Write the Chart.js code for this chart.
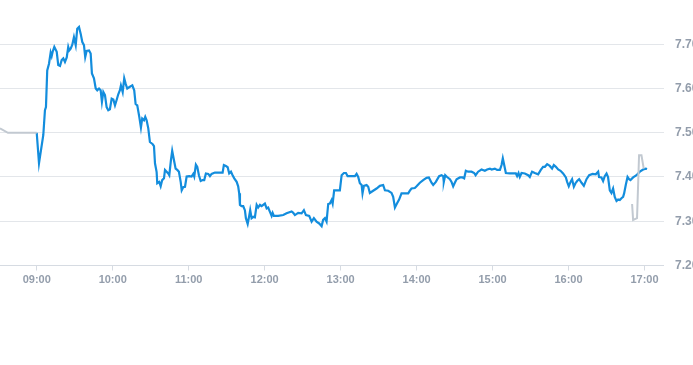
<!DOCTYPE html>
<html>
<head>
<meta charset="utf-8">
<script src="https://cdn.jsdelivr.net/npm/chart.js@4/dist/chart.umd.min.js"></script>
<style>
  html, body { margin: 0; padding: 0; background: #ffffff; overflow: hidden; width: 693px; height: 365px; }
  #wrap { position: relative; width: 693px; height: 365px; overflow: hidden; }
  canvas { position: absolute; left: 0; top: 0; }
</style>
</head>
<body>
<div id="wrap"><canvas id="c" width="720" height="365"></canvas></div>
<script>
// Time in minutes since midnight
const priceTimes = [
540.0,541.8,545.2,546.5,547.3,548.3,549.7,551.0,551.8,552.6,553.9,555.8,557.0,558.4,559.7,561.0,562.3,563.7,564.9,565.7,
566.8,568.1,569.4,570.8,572.0,573.4,574.7,576.0,577.3,578.3,579.4,581.3,582.6,583.6,585.2,586.6,587.8,589.2,590.5,591.5,
592.6,593.9,595.2,596.5,597.8,599.2,600.5,601.8,603.1,604.4,605.7,606.5,607.9,609.1,610.2,611.5,613.6,615.5,617.0,618.1,
619.4,621.0,622.3,623.3,624.7,625.7,626.8,628.1,629.4,631.6,632.6,633.4,634.7,635.2,636.8,637.9,639.1,640.5,641.3,642.6,
643.9,644.7,646.0,647.0,648.4,649.7,651.0,652.3,653.7,654.5,655.7,657.1,658.4,660.5,662.3,663.6,664.4,665.7,666.8,668.1,
669.5,671.0,672.3,673.6,675.5,676.8,678.1,680.7,683.3,686.8,687.8,689.4,690.8,692.0,693.4,694.7,696.0,697.9,699.1,699.9,
700.5,701.8,703.1,704.4,705.2,706.6,707.8,708.6,709.7,711.0,712.3,713.7,714.9,716.3,717.6,720.2,721.6,722.8,724.2,725.5,
726.3,727.3,730.7,734.7,737.3,741.3,742.6,743.9,746.5,749.2,751.0,752.6,755.2,757.1,758.9,761.0,763.1,765.0,766.2,767.6,
768.9,770.2,771.5,772.9,773.7,774.9,778.1,779.4,780.8,782.6,784.2,785.5,787.9,791.3,792.6,793.9,795.2,796.6,797.3,798.4,
800.5,801.8,803.1,805.7,808.4,811.0,813.6,815.0,817.6,820.2,821.5,822.9,824.7,826.2,828.1,830.7,833.4,834.7,836.0,838.6,
840.0,842.6,845.2,847.9,849.7,851.8,853.1,855.2,857.8,859.7,861.0,861.5,862.6,864.1,866.3,867.6,868.9,870.2,871.6,874.2,
876.3,877.6,878.9,880.7,883.4,885.5,886.6,888.6,891.3,893.9,895.7,897.9,899.2,901.8,903.6,905.8,907.1,908.1,909.2,910.5,
913.6,916.2,918.4,919.4,920.5,921.5,922.9,925.5,928.1,929.4,931.2,933.4,936.0,938.1,939.9,941.3,943.1,945.2,947.0,948.4,
950.0,951.8,953.7,955.7,957.9,958.9,960.2,961.6,962.8,964.2,965.5,966.8,968.4,970.3,972.1,974.2,976.3,979.0,981.5,983.4,
984.1,986.0,987.3,988.6,990.0,991.2,992.6,993.9,995.2,996.5,997.9,999.2,1000.5,1001.8,1003.1,1003.9,1005.2,1006.6,1007.8,1008.9,
1011.0,1013.7,1016.3,1018.9,1021.0,1022.0
];
const priceValues = [
7.500,7.431,7.495,7.551,7.558,7.641,7.656,7.681,7.673,7.683,7.694,7.683,7.653,7.651,7.664,7.668,7.660,7.670,7.694,7.686,
7.690,7.699,7.716,7.698,7.735,7.739,7.724,7.705,7.698,7.671,7.685,7.686,7.679,7.634,7.623,7.600,7.596,7.600,7.596,7.570,
7.592,7.585,7.558,7.551,7.553,7.577,7.575,7.562,7.574,7.587,7.596,7.607,7.592,7.623,7.611,7.600,7.604,7.607,7.596,7.565,
7.562,7.536,7.512,7.532,7.528,7.536,7.528,7.510,7.479,7.474,7.470,7.431,7.411,7.386,7.389,7.379,7.393,7.397,7.416,7.412,
7.408,7.404,7.438,7.459,7.438,7.419,7.416,7.412,7.389,7.370,7.377,7.378,7.401,7.402,7.401,7.407,7.401,7.428,7.423,7.404,
7.391,7.393,7.393,7.408,7.407,7.402,7.407,7.410,7.410,7.410,7.427,7.425,7.422,7.408,7.412,7.404,7.397,7.389,7.379,7.363,
7.337,7.334,7.334,7.325,7.307,7.294,7.312,7.325,7.307,7.310,7.309,7.337,7.331,7.337,7.334,7.340,7.329,7.331,7.321,7.312,
7.319,7.312,7.312,7.314,7.318,7.322,7.319,7.314,7.319,7.318,7.325,7.314,7.312,7.299,7.307,7.299,7.295,7.289,7.303,7.307,
7.299,7.339,7.340,7.348,7.340,7.370,7.370,7.370,7.404,7.409,7.409,7.402,7.402,7.402,7.407,7.400,7.386,7.382,7.363,7.380,
7.382,7.378,7.364,7.369,7.374,7.380,7.382,7.370,7.369,7.364,7.355,7.331,7.341,7.349,7.363,7.363,7.363,7.369,7.374,7.375,
7.379,7.387,7.393,7.398,7.399,7.387,7.382,7.389,7.402,7.404,7.402,7.389,7.404,7.400,7.395,7.389,7.379,7.387,7.395,7.399,
7.399,7.397,7.414,7.412,7.412,7.409,7.404,7.412,7.417,7.414,7.417,7.419,7.417,7.419,7.416,7.416,7.427,7.442,7.427,7.409,
7.408,7.408,7.408,7.402,7.409,7.400,7.409,7.408,7.404,7.400,7.412,7.409,7.406,7.416,7.423,7.423,7.429,7.425,7.419,7.427,
7.423,7.417,7.414,7.408,7.399,7.389,7.379,7.389,7.395,7.378,7.386,7.391,7.395,7.387,7.380,7.395,7.404,7.407,7.406,7.412,
7.400,7.399,7.391,7.402,7.408,7.400,7.370,7.364,7.374,7.355,7.346,7.349,7.348,7.352,7.355,7.363,7.382,7.400,7.395,7.393,
7.399,7.404,7.412,7.417,7.419,7.418
];
// Pre/after-market series (null = gap)
const extTimes  = [511.0, 517.3, 540.0, 760.0, 1010.2, 1011.0, 1014.1, 1015.7, 1017.6, 1019.4];
const extValues = [7.510, 7.500, 7.500, null, 7.339, 7.303, 7.307, 7.449, 7.449, 7.419];
const xMin = 511, xMax = 1035;
const yMin = 7.2, yMax = 7.8;
const hourTicks = ['09:00','10:00','11:00','12:00','13:00','14:00','15:00','16:00','17:00'];

const toPts = (t, v) => t.map((x, i) => ({ x: x, y: v[i] }));
const fmtTime = m => {
  const h = Math.floor(m / 60), mm = Math.round(m % 60);
  return String(h).padStart(2, '0') + ':' + String(mm).padStart(2, '0');
};
const xFont = { family: 'Liberation Sans, Arial, sans-serif', size: 11, weight: 'bold' };
const yFont = { family: 'Liberation Sans, Arial, sans-serif', size: 12, weight: 'bold' };

new Chart(document.getElementById('c'), {
  type: 'line',
  data: {
    datasets: [
      { data: toPts(extTimes, extValues), borderColor: '#c2c9d1', borderWidth: 2, pointRadius: 0, tension: 0, spanGaps: false, order: 0 },
      { data: toPts(priceTimes, priceValues), borderColor: '#138ddd', borderWidth: 2.2, pointRadius: 0, tension: 0, order: 1 }
    ]
  },
  options: {
    responsive: false,
    animation: false,
    devicePixelRatio: 1,
    layout: { padding: 0 },
    plugins: { legend: { display: false }, tooltip: { enabled: false } },
    scales: {
      x: {
        type: 'linear',
        min: xMin, max: xMax,
        grid: { drawOnChartArea: false, drawTicks: true, tickLength: 5, color: '#d6dbe2' },
        border: { display: true, color: '#d6dbe2' },
        ticks: {
          stepSize: 60, includeBounds: false, autoSkip: false, maxRotation: 0, padding: 3,
          color: '#939dab', font: xFont,
          callback: v => { const s = fmtTime(v); return hourTicks.includes(s) ? s : ''; }
        },
        afterFit: s => { s.height = 99.5; s.paddingLeft = 0; s.paddingRight = 0; }
      },
      y: {
        position: 'right',
        min: yMin, max: yMax,
        grid: { drawTicks: false, color: c => (c.tick && c.tick.value > 7.75 ? 'rgba(0,0,0,0)' : '#e3e6ea') },
        border: { display: false },
        ticks: {
          stepSize: 0.1, padding: 11.5,
          color: '#939dab', font: yFont,
          callback: v => (v > 7.75 ? '' : Number(v).toFixed(2))
        },
        afterFit: s => { s.width = 56.5; s.paddingTop = 0; s.paddingBottom = 0; }
      }
    }
  }
});
</script>
</body>
</html>
